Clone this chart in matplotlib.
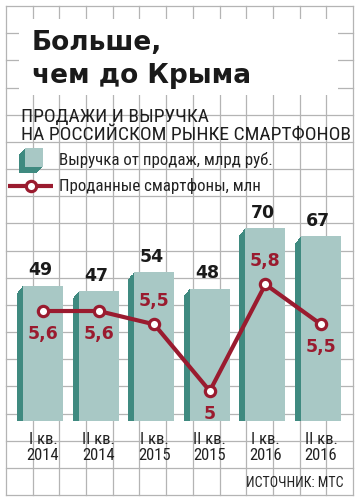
import numpy as np
import matplotlib
matplotlib.use('Agg')
import matplotlib.pyplot as plt
from matplotlib import font_manager
from matplotlib.patches import Rectangle
from matplotlib.transforms import ScaledTranslation

# Данные
kvartaly = ['I кв.\n2014', 'II кв.\n2014', 'I кв.\n2015', 'II кв.\n2015', 'I кв.\n2016', 'II кв.\n2016']
vyruchka = [49, 47, 54, 48, 70, 67]          # выручка, млрд руб.
smartfony = [5.6, 5.6, 5.5, 5.0, 5.8, 5.5]   # проданные смартфоны, млн
smartfony_txt = ['5,6', '5,6', '5,5', '5', '5,8', '5,5']

# где подпись у точки линии: -1 снизу, 1 сверху
podpis_poz = [-1, -1, 1, -1, 1, -1]

# Цвета
lico = '#a8c8c5'
bok = '#3f8a80'
krasny = '#9a1b2f'
setka = '#b4b4b4'

# Узкий шрифт, если есть
imena = {f.name for f in font_manager.fontManager.ttflist}
uzkiy = next((n for n in ['Liberation Sans Narrow', 'Roboto Condensed', 'Open Sans Condensed']
              if n in imena), 'DejaVu Sans')
zhirny = 'DejaVu Sans'

W, H = 360, 504
fig = plt.figure(figsize=(W / 100, H / 100), dpi=100)
fig.patch.set_facecolor('white')

# Фон: сетка в пикселях
bg = fig.add_axes([0, 0, 1, 1])
bg.set_xlim(0, W)
bg.set_ylim(H, 0)
bg.axis('off')

xs = np.linspace(6, 353, 14)
ys = np.linspace(6, 495, 19)
for x in xs:
    bg.plot([x, x], [6, 495], color=setka, lw=0.9, zorder=1)
for y in ys:
    bg.plot([6, 353], [y, y], color=setka, lw=0.9, zorder=1)

# белая плашка под заголовком
bg.add_patch(Rectangle((19, 19), 338 - 19, 95 - 19, facecolor='white', edgecolor='none', zorder=2))

# Заголовок
bg.text(32, 50, 'Больше,', fontsize=19, weight='bold', family=zhirny, color='#1a1a1a',
        va='baseline', zorder=3)
bg.text(32, 83, 'чем до Крыма', fontsize=19, weight='bold', family=zhirny, color='#1a1a1a',
        va='baseline', zorder=3)

# Подзаголовок
bg.text(21, 122, 'ПРОДАЖИ И ВЫРУЧКА', fontsize=14, family=uzkiy, color='#1e1e1e',
        va='baseline', zorder=3)
bg.text(21, 140, 'НА РОССИЙСКОМ РЫНКЕ СМАРТФОНОВ', fontsize=14, family=uzkiy, color='#1e1e1e',
        va='baseline', zorder=3)

# Легенда: столбик
for t in np.linspace(1, 0, 10):
    bg.add_patch(Rectangle((25 - 6 * t, 148 + 6 * t), 18, 19, facecolor=bok, edgecolor='none', zorder=3))
bg.add_patch(Rectangle((25, 148), 18, 19, facecolor=lico, edgecolor='none', zorder=4))
bg.text(59, 160, 'Выручка от продаж, млрд руб.', fontsize=12.2, family=uzkiy, color='#222222',
        va='center', zorder=3)

# Легенда: линия
bg.plot([8, 53], [186, 186], color=krasny, lw=3, solid_capstyle='butt', zorder=3)
bg.plot([31], [186], marker='o', ms=7.4, mew=2.3, mfc='white', mec=krasny, zorder=4)
bg.text(59, 186, 'Проданные смартфоны, млн', fontsize=12.2, family=uzkiy, color='#222222',
        va='center', zorder=3)

# Источник
bg.text(344, 483, 'ИСТОЧНИК: МТС', fontsize=10, family=uzkiy, color='#222222',
        ha='right', va='center', zorder=3)

# Столбики
x0, x1 = 15.2, 348.8
y_niz, y_verh = 421, 117
ax = fig.add_axes([x0 / W, (H - y_niz) / H, (x1 - x0) / W, (y_niz - y_verh) / H])
ax.set_xlim(-0.5, 5.5)
ax.set_ylim(0, (y_niz - y_verh) / 2.76)
ax.patch.set_visible(False)
for s in ax.spines.values():
    s.set_visible(False)
ax.set_yticks([])

x = np.arange(len(vyruchka))
shir = 0.72
# объём: сдвиг влево-вниз
for t in np.linspace(1, 0, 12):
    sdvig = ScaledTranslation(-0.06 * t, -0.07 * t, fig.dpi_scale_trans)
    ax.bar(x, vyruchka, width=shir, color=bok, edgecolor='none',
           transform=ax.transData + sdvig, zorder=2)
ax.bar(x, vyruchka, width=shir, color=lico, edgecolor='none', zorder=3)

for i, v in enumerate(vyruchka):
    ax.annotate(str(v), (x[i], v), xytext=(-2, 11), textcoords='offset points',
                ha='center', va='center', fontsize=12.5, weight='bold', family=zhirny,
                color='#1a1a1a')

ax.set_xticks(x)
ax.set_xticklabels(kvartaly, family=uzkiy, fontsize=12, color='#222222', linespacing=1.05)
ax.tick_params(axis='x', length=0, pad=8)

# Линия смартфонов
ax2 = ax.twinx()
shkala = 133.3
ax2.set_ylim(5.0 - (y_niz - 391) / shkala, 5.6 + (311 - y_verh) / shkala)
ax2.patch.set_visible(False)
for s in ax2.spines.values():
    s.set_visible(False)
ax2.set_yticks([])
ax2.plot(x, smartfony, color=krasny, lw=3, marker='o', ms=7.4, mew=2.3,
         mfc='white', mec=krasny, zorder=5)
for i, v in enumerate(smartfony):
    ax2.annotate(smartfony_txt[i], (x[i], v), xytext=(0, 16.5 * podpis_poz[i]),
                 textcoords='offset points', ha='center', va='center', fontsize=12.5,
                 weight='bold', family=zhirny, color=krasny)

fig.savefig('out.png', dpi=100, facecolor='white')
